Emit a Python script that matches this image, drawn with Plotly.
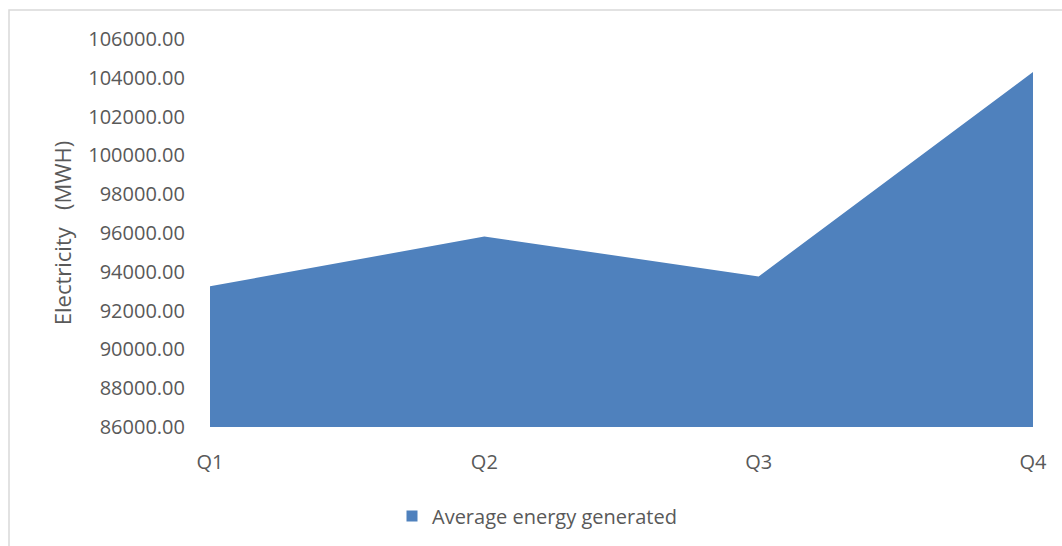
import plotly.graph_objects as go

# Quarterly averages
quarters = ["Q1", "Q2", "Q3", "Q4"]
avg_energy = [93250, 95820, 93760, 104300]
series_name = "Average energy generated"
y_title = "Electricity\u00a0\u00a0 (MWH)"

FILL = "#4F81BD"
TEXT = "#595959"
FONT = "Open Sans"

W, H = 1062, 546
ML, MR, MT, MB = 210, 29, 39, 118
pw = W - ML - MR
ph = H - MT - MB

fig = go.Figure()
fig.add_trace(go.Scatter(
    x=quarters, y=avg_energy, mode="none", fill="tozeroy",
    fillcolor=FILL, showlegend=False, hoverinfo="x+y",
))
# legend key
fig.add_trace(go.Scatter(
    x=[None], y=[None], mode="markers", name=series_name,
    marker=dict(symbol="square", size=11, color=FILL),
))

def px_x(p):
    return (p - ML) / pw

def px_y(p):
    return (H - MB - p) / ph

fig.update_layout(
    width=W, height=H,
    margin=dict(l=ML, r=MR, t=MT, b=MB),
    paper_bgcolor="white", plot_bgcolor="white",
    font=dict(family=FONT, size=20, color=TEXT),
    showlegend=True,
    legend=dict(
        orientation="h", x=px_x(537), y=px_y(516),
        xanchor="center", yanchor="middle",
        font=dict(size=20, color=TEXT), bgcolor="rgba(0,0,0,0)",
    ),
    shapes=[dict(
        type="rect", xref="paper", yref="paper",
        x0=px_x(9), x1=px_x(1080), y0=px_y(10), y1=px_y(570),
        line=dict(color="#D9D9D9", width=1.5), fillcolor="rgba(0,0,0,0)",
        layer="below",
    )],
)
fig.update_xaxes(
    type="category", range=[0, len(quarters) - 1],
    showgrid=False, zeroline=False, showline=False,
    ticks="", ticklabelstandoff=21,
    tickfont=dict(size=20, color=TEXT),
)
fig.update_yaxes(
    range=[86000, 106000], tick0=86000, dtick=2000, tickformat=".2f",
    showgrid=False, zeroline=False, showline=False,
    ticks="", ticklabelstandoff=24,
    tickfont=dict(size=20, color=TEXT),
    title=dict(text=y_title, font=dict(size=22, color=TEXT), standoff=10),
)

fig.write_html("out.html")
